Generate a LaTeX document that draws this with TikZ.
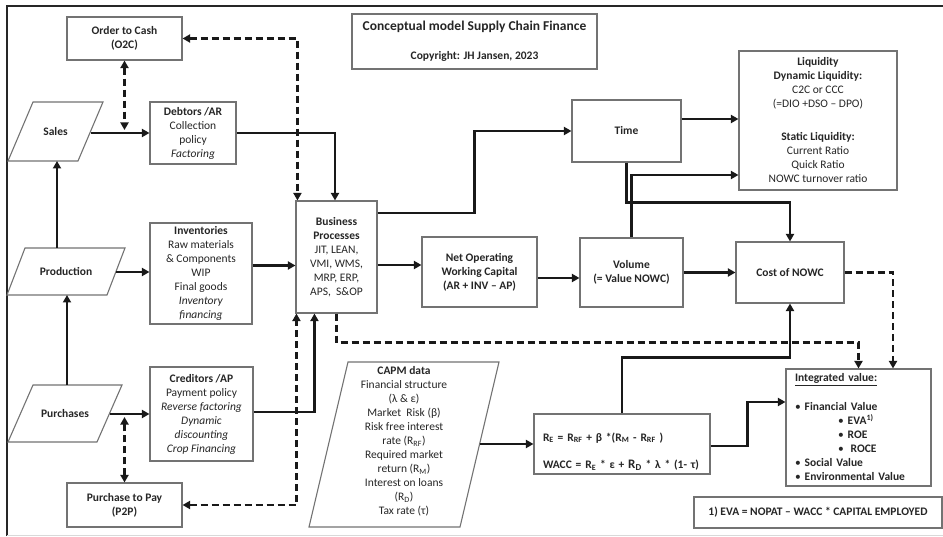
\documentclass[tikz,border=0pt]{standalone}
\usepackage{fontspec}
\setmainfont{Carlito}
\usetikzlibrary{arrows.meta}
\begin{document}
\begin{tikzpicture}[x=1pt,y=-1pt,
  >={Triangle[length=7.5pt,width=8pt]},
  every node/.style={font=\fontsize{11.5}{14}\selectfont, text=black!85},
  box/.style={draw=black!55, line width=1.1pt, fill=white, align=center, inner sep=2pt},
  pbox/.style={draw=black!55, line width=1.1pt, fill=white},
  txt/.style={align=center, inner sep=1pt},
  conn/.style={line width=2.8pt, ->, black!90},
  dsh/.style={line width=2.5pt, dash pattern=on 7pt off 4pt, black!90}]
\useasboundingbox (0,0) rectangle (943,537);
% frame
\draw[line width=1.8pt, black!85] (7,536) -- (7,6) -- (943,6);
\draw[black!15, line width=0.8pt] (7,535.5) -- (943,535.5);

% title
\node[box, minimum width=245pt, minimum height=55pt] (title) at (474.5,41.5)
  {{\fontsize{13.5}{16}\selectfont\textbf{Conceptual model Supply Chain Finance}}\\[15pt]\textbf{Copyright: JH Jansen, 2023}};

% left boxes
\node[box, minimum width=115pt, minimum height=43pt] (o2c) at (124.5,38.5) {\textbf{Order to Cash}\\\textbf{(O2C)}};
\node[box, minimum width=86pt, minimum height=62pt] (deb) at (193,133) {\textbf{Debtors /AR}\\Collection\\policy\\\textit{Factoring}};
\node[box, minimum width=102pt, minimum height=101pt] (inv) at (201,273.5) {\textbf{Inventories}\\Raw materials\\\& Components\\WIP\\Final goods\\\textit{Inventory}\\\textit{financing}};
\node[box, minimum width=103pt, minimum height=94pt] (cred) at (201.5,414) {\textbf{Creditors /AP}\\Payment policy\\\textit{Reverse factoring}\\\textit{Dynamic}\\\textit{discounting}\\\textit{Crop Financing}};
\node[box, minimum width=115pt, minimum height=44pt] (p2p) at (124.5,505) {\textbf{Purchase to Pay}\\\textbf{(P2P)}};

% parallelograms
\draw[pbox] (33,102) -- (103,102) -- (78,161) -- (8,161) -- cycle;
\node[txt] (sales) at (55.5,131.5) {\textbf{Sales}};
\coordinate (salesE) at (91,133);
\coordinate (salesS) at (57,161);
\draw[pbox] (25,248) -- (125,248) -- (107,295) -- (7,295) -- cycle;
\node[txt] (prod) at (66,271.5) {\textbf{Production}};
\coordinate (prodE) at (116,272);
\coordinate (prodN) at (57,248);
\coordinate (prodS) at (67,295);
\draw[pbox] (33,385) -- (122,385) -- (97,442) -- (8,442) -- cycle;
\node[txt] (purch) at (65,413.5) {\textbf{Purchases}};
\coordinate (purchE) at (110,414);
\coordinate (purchN) at (67,385);
\draw[pbox] (348,362) -- (499,362) -- (460,527) -- (309,527) -- cycle;
\node[txt] (capm) at (404,441) {\textbf{CAPM data}\\Financial structure\\(λ \& ε)\\Market\ \ Risk (β)\\Risk free interest\\rate (R\textsubscript{RF})\\Required market\\return (R\textsubscript{M})\\Interest on loans\\(R\textsubscript{D})\\Tax rate (τ)};
\coordinate (capmE) at (480,444);

% middle / right boxes
\node[box, minimum width=81pt, minimum height=112pt] (bp) at (336.5,257) {\textbf{Business}\\\textbf{Processes}\\JIT, LEAN,\\VMI, WMS,\\MRP, ERP,\\APS,\ \ S\&OP};
\node[box, minimum width=115pt, minimum height=70pt] (nowc) at (479.5,272) {\textbf{Net Operating}\\\textbf{Working Capital}\\\textbf{(AR + INV – AP)}};
\node[box, minimum width=109pt, minimum height=62pt] (time) at (626.5,131) {\textbf{Time}};
\node[box, minimum width=158pt, minimum height=139pt] (liq) at (818,120.5) {\textbf{Liquidity}\\\textbf{Dynamic Liquidity:}\\C2C or CCC\\(=DIO +DSO – DPO)\\[19pt]\textbf{Static Liquidity:}\\Current Ratio\\Quick Ratio\\NOWC turnover ratio};
\node[box, minimum width=103pt, minimum height=69pt] (vol) at (631.5,272.5) {\textbf{Volume}\\\textbf{(= Value NOWC)}};
\node[box, minimum width=108pt, minimum height=61pt] (cost) at (790,272.5) {\textbf{Cost of NOWC}};
\node[box, minimum width=176pt, minimum height=60pt, align=left, text width=158pt, inner xsep=9pt] (form) at (622,444)
  {\strut\\\textbf{R\textsubscript{E} = R\textsubscript{RF} + β *(R\textsubscript{M} - R\textsubscript{RF} )}\\[14pt]\textbf{WACC = R\textsubscript{E} * ε + {\fontsize{13}{14}\selectfont R\textsubscript{D}} * λ * (1- τ)}};
\node[box, minimum width=145pt, minimum height=117pt, align=left, text width=127pt, inner xsep=9pt] (integ) at (858.5,427.5)
  {\underline{\textbf{Integrated value:}}\\[15pt]
   \textbullet\hspace{4pt}\textbf{Financial Value}\\
   \hspace{43pt}\textbullet\hspace{4pt}\textbf{EVA\textsuperscript{1)}}\\
   \hspace{43pt}\textbullet\hspace{4pt}\textbf{ROE}\\
   \hspace{43pt}\textbullet\hspace{7pt}\textbf{ROCE}\\
   \textbullet\hspace{4pt}\textbf{Social Value}\\
   \textbullet\hspace{4pt}\textbf{Environmental Value}};
\node[box, minimum width=248pt, minimum height=31pt] (eva) at (818,512.5) {\textbf{1) EVA = NOPAT – WACC * CAPITAL EMPLOYED}};

% solid connectors
\draw[conn] (prodN) -- (salesS);
\draw[conn] (purchN) -- (prodS);
\draw[conn] (salesE) -- (salesE -| deb.west);
\draw[conn] (prodE) -- (prodE -| inv.west);
\draw[conn] (purchE) -- (purchE -| cred.west);
\draw[conn] (deb.east) -| ([xshift=-1.5pt]bp.north);
\draw[conn] ([yshift=8pt]inv.east) -- ([yshift=8pt]inv.east -| bp.west);
\draw[conn] ([yshift=2pt]cred.east) -| ([xshift=19pt]bp.south west);
\draw[conn] ([yshift=-8pt]bp.east) -- ([yshift=-8pt]bp.east -| nowc.west);
\draw[conn] ([yshift=44pt]bp.east) -- ++(97,0) |- (time.west);
\draw[conn] ([yshift=-6pt]nowc.east) -- ([yshift=-6pt]nowc.east -| vol.west);
\draw[conn] ([yshift=12pt]time.east) -- ([yshift=12pt]time.east -| liq.west);
\draw[conn] (time.south) -- ++(0,40) -| (cost.north);
\draw[conn] (vol.north) |- ([yshift=-54.5pt]liq.west);
\draw[conn] (vol.east) -- (cost.west);
\draw[conn] (capmE) -- (capmE -| form.west);
\draw[conn] (form.north) -- ++(0,-56) -| (cost.south);
\draw[conn] ([yshift=-2pt]form.east) -- ++(37,0) |- ([yshift=25.5pt]integ.west);

% dashed connectors
\draw[dsh,<->] (o2c.south) -- ([yshift=3pt]o2c.south |- deb.west);
\draw[dsh,<->] (p2p.north) -- ([yshift=-3pt]p2p.north |- cred.west);
\draw[dsh,<->] (o2c.east) -| ([xshift=2pt]bp.north west);
\draw[dsh,<->] (p2p.east) -| ([xshift=1pt]bp.south west);
\draw[dsh,->] (cost.east) -| ([xshift=34.5pt]integ.north);
\draw[dsh,->] (bp.south) -- ++(0,29) -| (integ.north);
\end{tikzpicture}
\end{document}
